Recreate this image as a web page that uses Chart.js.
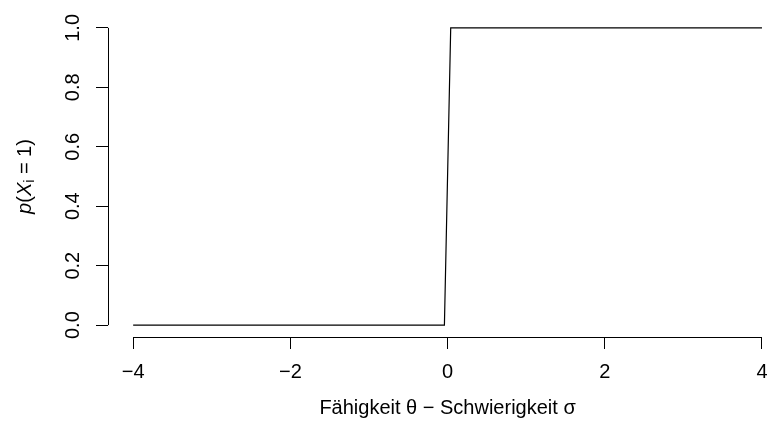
<!DOCTYPE html>
<html>
<head>
<meta charset="utf-8">
<script src="https://cdn.jsdelivr.net/npm/chart.js@4.4.1/dist/chart.umd.min.js"></script>
<style>
  html, body { margin: 0; padding: 0; background: #ffffff; }
  #wrap { width: 767px; height: 429px; }
</style>
</head>
<body>
<div id="wrap"><canvas id="chart" width="767" height="429"></canvas></div>
<script>
// Step curve (Guttman-type item characteristic)
const abilityMinusDifficulty = [-4, -0.04, 0.04, 4];
const probSolved = [0, 0, 1, 1];

const xTicks = [-4, -2, 0, 2, 4];
const yTicks = [0, 0.2, 0.4, 0.6, 0.8, 1.0];

const xTitle = 'Fähigkeit θ − Schwierigkeit σ';
const FONT = '"Liberation Sans", Arial, sans-serif';
const FS = 20;

// R style axes: line only from first to last tick, rotated y labels, titles
const rAxes = {
  id: 'rAxes',
  afterDraw(chart) {
    const ctx = chart.ctx;
    const xs = chart.scales.x, ys = chart.scales.y;
    const area = chart.chartArea;
    ctx.save();
    ctx.strokeStyle = '#000';
    ctx.lineWidth = 1;
    ctx.beginPath();
    ctx.moveTo(xs.getPixelForValue(xTicks[0]), area.bottom + 0.5);
    ctx.lineTo(xs.getPixelForValue(xTicks[xTicks.length - 1]), area.bottom + 0.5);
    ctx.moveTo(area.left + 0.5, ys.getPixelForValue(yTicks[0]));
    ctx.lineTo(area.left + 0.5, ys.getPixelForValue(yTicks[yTicks.length - 1]));
    ctx.stroke();

    ctx.fillStyle = '#000';
    ctx.font = FS + 'px ' + FONT;
    ctx.textAlign = 'center';
    ctx.textBaseline = 'middle';
    // y tick labels, rotated
    yTicks.forEach(v => {
      const y = ys.getPixelForValue(v);
      ctx.save();
      ctx.translate(73, y);
      ctx.rotate(-Math.PI / 2);
      ctx.fillText(v.toFixed(1), 0, 0);
      ctx.restore();
    });

    // x title
    ctx.fillText(xTitle, (area.left + xs.getPixelForValue(4.32)) / 2, 408);

    // y title: p(X_i = 1)
    ctx.save();
    ctx.translate(25, (area.top + area.bottom) / 2);
    ctx.rotate(-Math.PI / 2);
    const parts = [
      { t: 'p', f: 'italic ' + FS + 'px ' + FONT, dy: 0 },
      { t: '(', f: FS + 'px ' + FONT, dy: 0 },
      { t: 'X', f: 'italic ' + FS + 'px ' + FONT, dy: 0 },
      { t: 'i', f: '14px ' + FONT, dy: 5 },
      { t: ' = ', f: FS + 'px ' + FONT, dy: 0 },
      { t: '1)', f: FS + 'px ' + FONT, dy: 0 }
    ];
    let total = 0;
    parts.forEach(p => { ctx.font = p.f; total += ctx.measureText(p.t).width; });
    let cx = -total / 2;
    ctx.textAlign = 'left';
    parts.forEach(p => {
      ctx.font = p.f;
      ctx.fillText(p.t, cx, p.dy);
      cx += ctx.measureText(p.t).width;
    });
    ctx.restore();
    ctx.restore();
  }
};

new Chart(document.getElementById('chart'), {
  type: 'line',
  data: {
    datasets: [{
      data: abilityMinusDifficulty.map((x, i) => ({ x: x, y: probSolved[i] })),
      borderColor: '#000000',
      borderWidth: 1.2,
      pointRadius: 0,
      tension: 0,
      fill: false
    }]
  },
  options: {
    responsive: false,
    animation: false,
    layout: { padding: { top: 16, right: 0, left: 0, bottom: 0 } },
    plugins: { legend: { display: false }, tooltip: { enabled: false } },
    scales: {
      x: {
        type: 'linear',
        min: -4.32,
        max: 4.064,
        afterBuildTicks: s => { s.ticks = xTicks.map(v => ({ value: v })); },
        afterFit: s => { s.height = 92; s.paddingLeft = 0; s.paddingRight = 0; },
        grid: { drawOnChartArea: false, drawTicks: true, tickLength: 12, color: '#000', lineWidth: 1 },
        border: { display: false },
        ticks: {
          color: '#000',
          font: { family: FONT, size: FS },
          padding: 11,
          maxRotation: 0,
          autoSkip: false,
          callback: v => (v < 0 ? '\u2212' + Math.abs(v) : String(v))
        }
      },
      y: {
        type: 'linear',
        min: -0.04,
        max: 1.04,
        afterBuildTicks: s => { s.ticks = yTicks.map(v => ({ value: v })); },
        afterFit: s => { s.width = 108; s.paddingTop = 0; s.paddingBottom = 0; },
        grid: { drawOnChartArea: false, drawTicks: true, tickLength: 12, color: '#000', lineWidth: 1 },
        border: { display: false },
        ticks: { display: false }
      }
    }
  },
  plugins: [rAxes]
});
</script>
</body>
</html>
